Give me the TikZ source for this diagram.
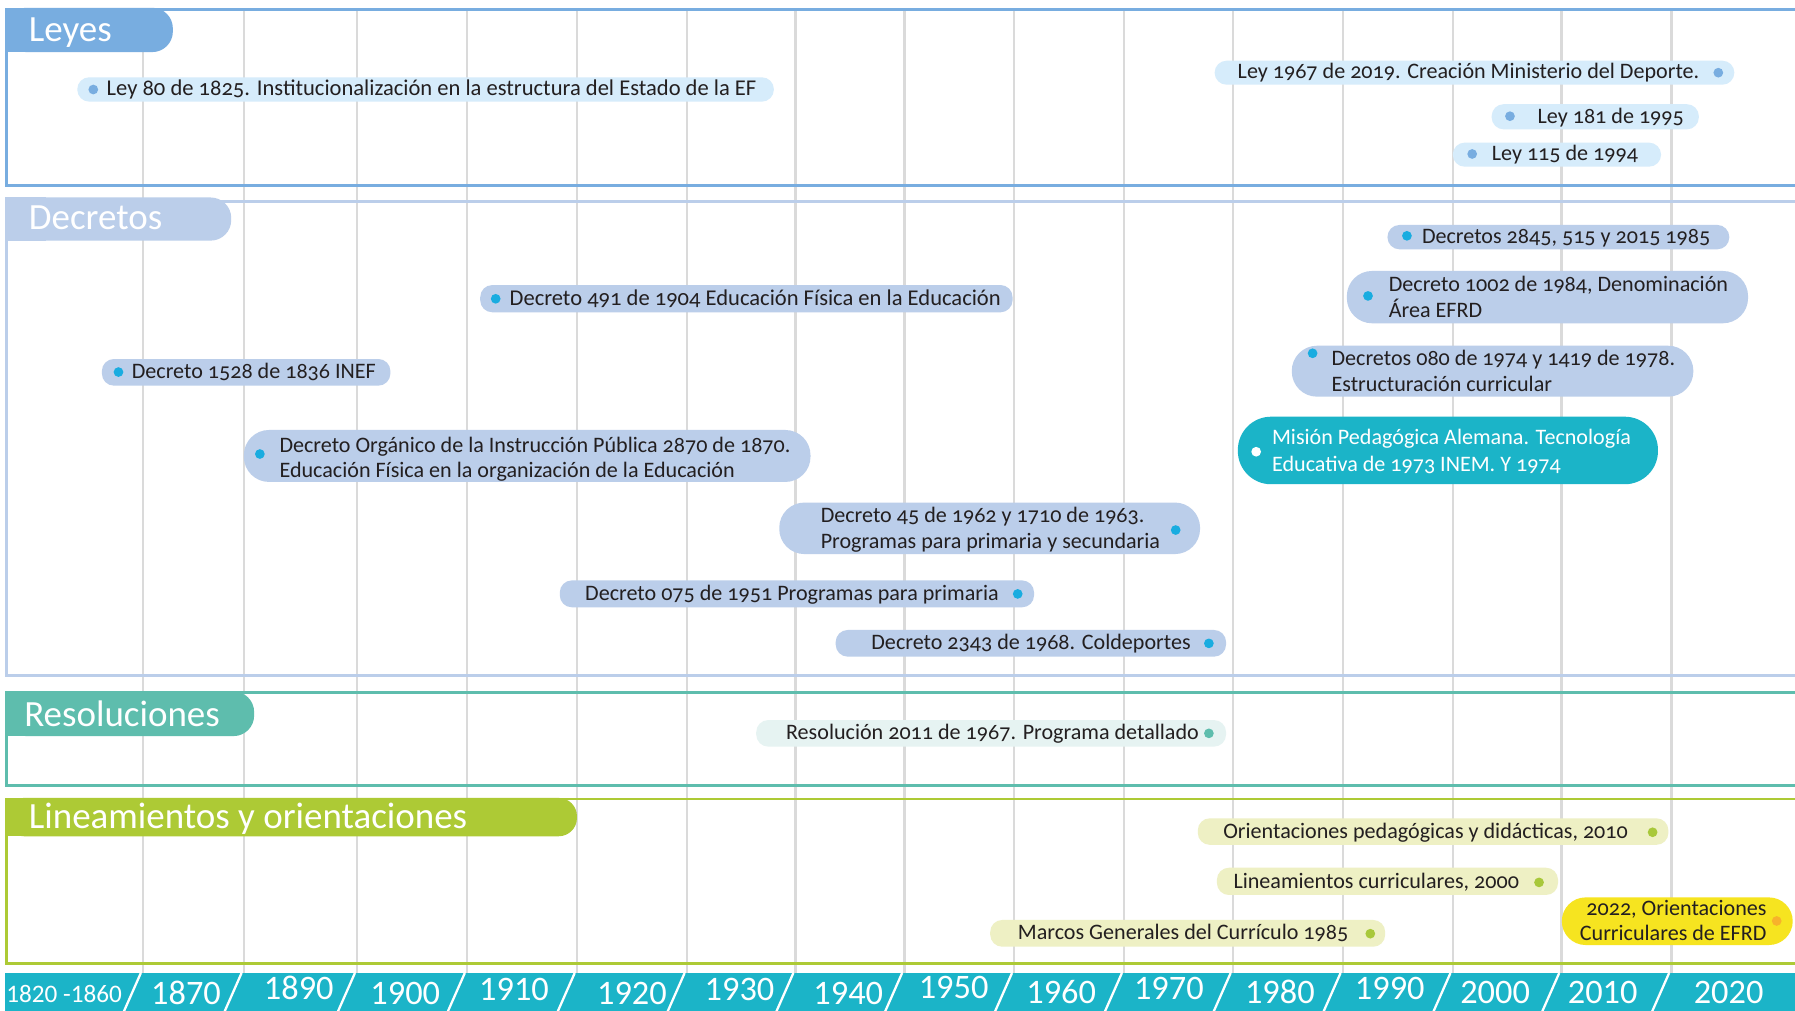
\documentclass[tikz,border=0pt]{standalone}
\usepackage{fontspec}
\setmainfont{Carlito}[Numbers=OldStyle]
\newfontfamily\yrfont{Carlito}[Numbers=Lining]
\usetikzlibrary{fit}
\definecolor{leyblue}{HTML}{78ADE0}
\definecolor{leypill}{HTML}{D6ECFB}
\definecolor{decblue}{HTML}{BBCEEA}
\definecolor{decdot}{HTML}{19ACE0}
\definecolor{tealpill}{HTML}{1BB4C8}
\definecolor{resgreen}{HTML}{5EBDAD}
\definecolor{respill}{HTML}{E6F3F2}
\definecolor{lingreen}{HTML}{ADCA35}
\definecolor{linpill}{HTML}{EEF0C4}
\definecolor{lindot}{HTML}{A8C83A}
\definecolor{yelpill}{HTML}{F6E420}
\definecolor{orgdot}{HTML}{F7B22B}
\definecolor{barcol}{HTML}{1BB4C8}
\definecolor{gridc}{HTML}{DADADA}
\definecolor{txtc}{HTML}{231F20}
\begin{document}
\begin{tikzpicture}[x=1pt,y=-1pt,
  gridl/.style={draw=gridc, line width=2pt},
  frame/.style={line width=2.5pt},
  tabbox/.style={inner sep=0pt, outer sep=0pt, rounded corners=18pt},
  hdr/.style={font=\fontsize{32.3}{36}\selectfont, text=white, inner sep=0pt, anchor=base west},
  pl/.style={inner sep=0pt, outer sep=0pt, rounded corners=10.5pt},
  pltwo/.style={inner sep=0pt, outer sep=0pt, rounded corners=22pt},
  txt/.style={font=\fontsize{19.3}{22}\selectfont, text=txtc, inner sep=0pt, anchor=base west},
  wtxt/.style={txt, font=\fontsize{19.7}{22}\selectfont},
  dotc/.style={circle, inner sep=0pt, minimum size=8.5pt},
  yr/.style={font=\yrfont\fontsize{30}{34}\selectfont, text=white, inner sep=0pt, text depth=0pt, text height=19pt, anchor=base},
  slashl/.style={draw=white, line width=2pt}]
\useasboundingbox (0,0) rectangle (1568,883);
\clip (0,0) rectangle (1568,883);
\fill[white] (0,0) rectangle (1568,883);

% grid lines
\foreach \g in {125,213,312,408,504,600,695,790,886,982,1077,1173,1269,1364,1460}
  \draw[gridl] (\g,8) -- (\g,850);

% ---------- Leyes ----------
\draw[frame, leyblue] (1600,8) -- (6,8) -- (6,162) -- (1600,162);
\node[tabbox, fill=leyblue, fit={(5,6.8)(151,45.5)}] (leytab) {};
\fill[leyblue] (4.75,6.8) rectangle (40,45.5);
\node[hdr] (leyh) at (25,36) {Leyes};

\node[pl, fill=leypill, fit={(67.5,67.5)(676,88.8)}] (ley80) {};
\node[dotc, fill=leyblue] (ley80d) at (81.5,78.2) {};
\node[wtxt] (ley80t) at (93,83.7) {Ley 80 de 1825. Institucionalización en la estructura del Estado de la EF};

\node[pl, fill=leypill, fit={(1061,53)(1515,74)}] (ley1967) {};
\node[dotc, fill=leyblue] (ley1967d) at (1501,63.5) {};
\node[txt] (ley1967t) at (1081,69) {Ley 1967 de 2019. Creación Ministerio del Deporte.};

\node[pl, fill=leypill, fit={(1303,91)(1484,113)}] (ley181) {};
\node[dotc, fill=leyblue] (ley181d) at (1319,101.5) {};
\node[txt] (ley181t) at (1343,107.5) {Ley 181 de 1995};

\node[pl, fill=leypill, fit={(1269,124.6)(1451,145.6)}] (ley115) {};
\node[dotc, fill=leyblue] (ley115d) at (1286,134.5) {};
\node[txt] (ley115t) at (1303,140.5) {Ley 115 de 1994};

% ---------- Decretos ----------
\draw[frame, decblue] (1600,176) -- (6,176) -- (6,590) -- (1600,590);
\node[tabbox, fill=decblue, fit={(5,172.5)(202,210.2)}] (dectab) {};
\fill[decblue] (4.75,172.5) rectangle (40,210.2);
\node[hdr] (dech) at (25,200.5) {Decretos};

\node[pl, fill=decblue, fit={(1212,196.5)(1510.6,217.8)}] (d2845) {};
\node[dotc, fill=decdot] (d2845d) at (1229,206) {};
\node[txt] (d2845t) at (1242,212.5) {Decretos 2845, 515 y 2015 1985};

\node[pltwo, fill=decblue, fit={(1176.5,236.7)(1527,282.4)}] (d1002) {};
\node[dotc, fill=decdot] (d1002d) at (1195,258.5) {};
\node[txt] (d1002a) at (1213,254.8) {Decreto 1002 de 1984, Denominación};
\node[txt] (d1002b) at (1213,277.2) {Área EFRD};

\node[pltwo, fill=decblue, fit={(1128.4,302)(1479.2,346.5)}] (d080) {};
\node[dotc, fill=decdot] (d080d) at (1146.6,308.6) {};
\node[txt] (d080a) at (1163,319.4) {Decretos 080 de 1974 y 1419 de 1978.};
\node[txt] (d080b) at (1163,341.6) {Estructuración curricular};

\node[inner sep=0pt, outer sep=0pt, rounded corners=29pt, fill=tealpill, fit={(1081.3,364)(1448.3,423)}] (mision) {};
\node[dotc, fill=white] (misiond) at (1097.3,394.6) {};
\node[txt, text=white] (misiona) at (1111,388.7) {Misión Pedagógica Alemana. Tecnología};
\node[txt, text=white] (misionb) at (1111,412) {Educativa de 1973 INEM. Y 1974};

\node[pl, fill=decblue, fit={(419.5,249)(884.5,272.8)}] (d491) {};
\node[dotc, fill=decdot] (d491d) at (433,261) {};
\node[wtxt] (d491t) at (445,266.5) {Decreto 491 de 1904 Educación Física en la Educación};

\node[pl, fill=decblue, fit={(89,313.6)(341,336.9)}] (d1528) {};
\node[dotc, fill=decdot] (d1528d) at (103.5,325) {};
\node[txt] (d1528t) at (115,330.8) {Decreto 1528 de 1836 INEF};

\node[pltwo, fill=decblue, fit={(213,375.6)(708,421)}] (dorg) {};
\node[dotc, fill=decdot] (dorgd) at (227,396.6) {};
\node[txt] (dorga) at (244,395) {Decreto Orgánico de la Instrucción Pública 2870 de 1870.};
\node[txt] (dorgb) at (244,417) {Educación Física en la organización de la Educación};

\node[pltwo, fill=decblue, fit={(680.7,439)(1048.3,484)}] (d45) {};
\node[dotc, fill=decdot] (d45d) at (1027,463) {};
\node[txt] (d45a) at (716.8,456.3) {Decreto 45 de 1962 y 1710 de 1963.};
\node[txt] (d45b) at (716.8,479) {Programas para primaria y secundaria};

\node[pl, fill=decblue, fit={(489,507)(903.3,530.5)}] (d075) {};
\node[dotc, fill=decdot] (d075d) at (889,518.8) {};
\node[txt] (d075t) at (511,524.5) {Decreto 075 de 1951 Programas para primaria};

\node[pl, fill=decblue, fit={(730,550.3)(1071,573.6)}] (d2343) {};
\node[dotc, fill=decdot] (d2343d) at (1056,562) {};
\node[txt] (d2343t) at (761,567.5) {Decreto 2343 de 1968. Coldeportes};

% ---------- Resoluciones ----------
\draw[frame, resgreen] (1600,605) -- (6,605) -- (6,686) -- (1600,686);
\node[tabbox, fill=resgreen, fit={(5,604)(222,643)}] (restab) {};
\fill[resgreen] (4.75,604) rectangle (40,643);
\node[hdr] (resh) at (21,634.5) {Resoluciones};

\node[pl, fill=respill, fit={(660.6,629)(1071,652.2)}] (r2011) {};
\node[dotc, fill=resgreen] (r2011d) at (1056,640.6) {};
\node[txt] (r2011t) at (686.5,646.4) {Resolución 2011 de 1967. Programa detallado};

% ---------- Lineamientos ----------
\draw[frame, lingreen] (1600,698) -- (6,698) -- (6,841.5) -- (1600,841.5);
\node[inner sep=0pt, outer sep=0pt, rounded corners=16pt, fill=lingreen, fit={(5,697)(504,730.5)}] (lintab) {};
\fill[lingreen] (4.75,697) rectangle (40,730.5);
\node[hdr] (linh) at (25,723.5) {Lineamientos y orientaciones};

\node[pl, fill=linpill, fit={(1046.3,714.8)(1457.4,738)}] (orient) {};
\node[dotc, fill=lindot] (orientd) at (1443.6,727) {};
\node[txt] (orientt) at (1068.4,732.5) {Orientaciones pedagógicas y didácticas, 2010};

\node[pl, fill=linpill, fit={(1063,758)(1361,781.8)}] (lincur) {};
\node[dotc, fill=lindot] (lincurd) at (1344.4,770.8) {};
\node[txt] (lincurt) at (1077.3,776.3) {Lineamientos curriculares, 2000};

\node[pl, fill=linpill, fit={(865,803.6)(1210,827)}] (marcos) {};
\node[dotc, fill=lindot] (marcosd) at (1197,815.6) {};
\node[txt] (marcost) at (889,821) {Marcos Generales del Currículo 1985};

\node[inner sep=0pt, outer sep=0pt, rounded corners=20.8pt, fill=yelpill, fit={(1364.3,783.9)(1566,825.5)}] (y2022) {};
\node[dotc, fill=orgdot] (y2022d) at (1552,804.5) {};
\node[txt, anchor=base east] (y2022a) at (1543.3,800) {2022, Orientaciones};
\node[txt, anchor=base east] (y2022b) at (1543.3,821.7) {Curriculares de EFRD};

% ---------- Timeline ----------
\fill[barcol] (4,850) rectangle (1568,883);
\foreach \g in {125,213,312,408,504,600,695,790,886,982,1077,1173,1269,1364,1460}
  \draw[slashl] (\g-17,884) -- (\g-2,850);
\node[yr, font=\yrfont\fontsize{22}{26}\selectfont, text height=14pt] (y1820) at (56,875.5) {1820 -1860};
\node[yr] (y1870) at (162.5,877.5) {1870};
\node[yr] (y1890) at (261,873.5) {1890};
\node[yr] (y1900) at (354,877.5) {1900};
\node[yr] (y1910) at (449,874) {1910};
\node[yr] (y1920) at (552,877.5) {1920};
\node[yr] (y1930) at (646,874) {1930};
\node[yr] (y1940) at (741,877.5) {1940};
\node[yr] (y1950) at (833,872) {1950};
\node[yr] (y1960) at (927,877) {1960};
\node[yr] (y1970) at (1021,873) {1970};
\node[yr] (y1980) at (1118,877) {1980};
\node[yr] (y1990) at (1214,873) {1990};
\node[yr] (y2000) at (1306,877) {2000};
\node[yr] (y2010) at (1400,877) {2010};
\node[yr] (y2020) at (1510,876.5) {2020};
\end{tikzpicture}
\end{document}
